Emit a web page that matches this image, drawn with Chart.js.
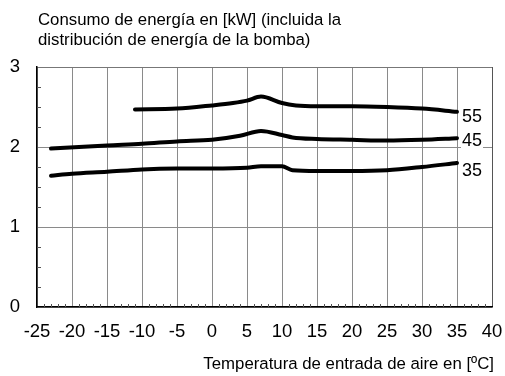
<!DOCTYPE html>
<html>
<head>
<meta charset="utf-8">
<script src="https://cdn.jsdelivr.net/npm/chart.js@4/dist/chart.umd.min.js"></script>
<style>
  html, body { margin: 0; padding: 0; background: #fff; }
  #chart { display: block; }
</style>
</head>
<body>
<canvas id="chart" width="505" height="376"></canvas>
<script>
// Water outlet temperatures (series names)
const seriesNames = ['55', '45', '35'];

// Air inlet temperature [ºC] for each curve
const temps55 = [-11, -5, 0, 3, 5, 7, 10, 12, 15, 20, 25, 30, 35];
const temps45 = [-23, -15, -10, -5, 0, 4, 7, 10, 11.5, 15, 20, 25, 30, 35];
const temps35 = [-23, -20, -15, -10, -5, 0, 5, 7, 10, 11.5, 15, 20, 25, 30, 35];

// Power consumption [kW]
const power55 = [2.47, 2.48, 2.52, 2.55, 2.58, 2.63, 2.55, 2.52, 2.51, 2.51, 2.50, 2.48, 2.44];
const power45 = [1.98, 2.02, 2.04, 2.07, 2.09, 2.14, 2.20, 2.15, 2.12, 2.10, 2.09, 2.08, 2.09, 2.11];
const power35 = [1.64, 1.665, 1.69, 1.72, 1.73, 1.73, 1.74, 1.76, 1.76, 1.71, 1.70, 1.70, 1.71, 1.75, 1.80];

// Axis tick values
const xTicks = [-25, -20, -15, -10, -5, 0, 5, 10, 15, 20, 25, 30, 35, 40];
const yTicks = [0, 1, 2, 3];

const titleLines = ['Consumo de energía en [kW] (incluida la', 'distribución de energía de la bomba)'];
const xTitle = 'Temperatura de entrada de aire en [ºC]';

// where the curve names sit, in chart units (kW), right of the curve end
const labelLevels = [2.38, 2.07, 1.70];

const FONT = "'Liberation Sans', Arial, sans-serif";

function toPoints(xs, ys) {
    return xs.map((x, i) => ({ x: x, y: ys[i] }));
}

const lineStyle = {
    borderColor: '#000',
    borderWidth: 4,
    pointRadius: 0,
    tension: 0.4,
    cubicInterpolationMode: 'monotone',
    borderCapStyle: 'round',
    borderJoinStyle: 'round',
    fill: false
};

// small inner ticks, header text, axis title and curve labels
const decorPlugin = {
    id: 'decor',
    beforeDatasetsDraw(chart) {
        const ctx = chart.ctx;
        const x = chart.scales.x, y = chart.scales.y;
        const area = chart.chartArea;
        ctx.save();
        ctx.strokeStyle = '#555';
        ctx.lineWidth = 1;
        ctx.beginPath();
        for (let v = 0.25; v < 3; v += 0.25) {
            if (Math.abs(v - Math.round(v)) < 0.01) continue;
            const py = Math.round(y.getPixelForValue(v)) + 0.5;
            ctx.moveTo(area.left, py);
            ctx.lineTo(area.left + 4, py);
        }
        for (let t = -24; t < 40; t++) {
            if (t % 5 === 0) continue;
            const px = Math.round(x.getPixelForValue(t)) + 0.5;
            ctx.moveTo(px, area.bottom);
            ctx.lineTo(px, area.bottom - 3);
        }
        ctx.stroke();
        ctx.restore();
    },
    afterDatasetsDraw(chart) {
        const ctx = chart.ctx;
        const y = chart.scales.y;
        ctx.save();
        ctx.font = '18px ' + FONT;
        ctx.textBaseline = 'middle';
        ctx.textAlign = 'left';
        chart.data.datasets.forEach((ds, i) => {
            const meta = chart.getDatasetMeta(i);
            const last = meta.data[meta.data.length - 1];
            const tx = last.x + 5;
            const ty = y.getPixelForValue(labelLevels[i]);
            const w = ctx.measureText(ds.label).width;
            ctx.fillStyle = '#fff';
            ctx.fillRect(tx - 1, ty - 8, w + 2, 16);
            ctx.fillStyle = '#000';
            ctx.fillText(ds.label, tx, ty);
        });
        ctx.restore();
    },
    afterDraw(chart) {
        const ctx = chart.ctx;
        const area = chart.chartArea;
        ctx.save();
        ctx.font = '16.8px ' + FONT;
        ctx.fillStyle = '#000';
        ctx.textBaseline = 'alphabetic';
        ctx.textAlign = 'left';
        ctx.fillText(titleLines[0], area.left + 1, 25);
        ctx.fillText(titleLines[1], area.left + 1, 45);
        ctx.textAlign = 'right';
        ctx.fillText(xTitle, area.right + 2, 369);
        ctx.restore();
    }
};

const ctx = document.getElementById('chart').getContext('2d');
new Chart(ctx, {
    type: 'line',
    data: {
        datasets: [
            Object.assign({ label: seriesNames[0], data: toPoints(temps55, power55) }, lineStyle),
            Object.assign({ label: seriesNames[1], data: toPoints(temps45, power45) }, lineStyle),
            Object.assign({ label: seriesNames[2], data: toPoints(temps35, power35) }, lineStyle)
        ]
    },
    options: {
        responsive: false,
        animation: false,
        devicePixelRatio: 1,
        layout: { padding: { left: 0, right: 13, top: 67, bottom: 0 } },
        plugins: {
            legend: { display: false },
            tooltip: { enabled: false }
        },
        scales: {
            x: {
                type: 'linear',
                min: xTicks[0],
                max: xTicks[xTicks.length - 1],
                afterBuildTicks: s => { s.ticks = xTicks.map(v => ({ value: v })); },
                afterFit: s => { s.height = 69; s.paddingLeft = 0; s.paddingRight = 0; },
                ticks: {
                    color: '#000',
                    font: { family: FONT, size: 18.5 },
                    padding: 14,
                    maxRotation: 0,
                    autoSkip: false
                },
                grid: {
                    drawTicks: false,
                    color: ctx => ctx.tick && ctx.tick.value === 40 ? '#555' : '#8a8a8a',
                    lineWidth: 1
                },
                border: { color: '#000', width: 1.5 }
            },
            y: {
                min: 0,
                max: 3,
                afterBuildTicks: s => { s.ticks = yTicks.map(v => ({ value: v })); },
                afterFit: s => { s.width = 37; s.paddingTop = 0; s.paddingBottom = 0; },
                ticks: {
                    color: '#000',
                    font: { family: FONT, size: 18.5 },
                    padding: 17
                },
                grid: {
                    drawTicks: false,
                    color: ctx => ctx.tick && ctx.tick.value === 3 ? '#777' : '#8a8a8a',
                    lineWidth: 1
                },
                border: { color: '#000', width: 1.5 }
            }
        }
    },
    plugins: [decorPlugin]
});
</script>
</body>
</html>
